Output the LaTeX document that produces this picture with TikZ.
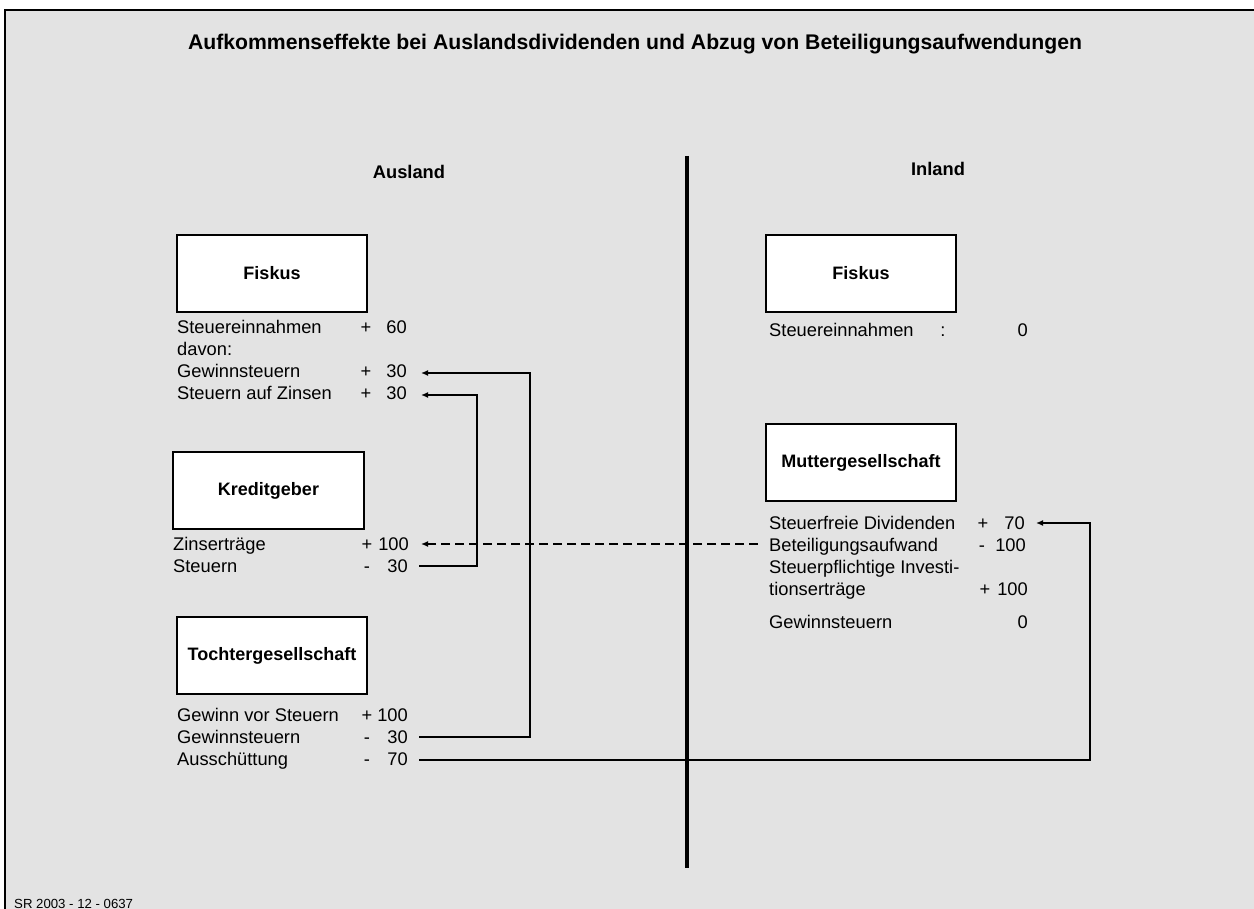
\documentclass[tikz,border=0pt]{standalone}
\usepackage{fontspec}
\setmainfont{Liberation Sans}
\usetikzlibrary{arrows.meta}
\definecolor{bg}{RGB}{227,227,227}
\begin{document}
\begin{tikzpicture}[x=1pt,y=-1pt,
  txt/.style={inner sep=0pt, anchor=base west, font=\fontsize{18.3}{22}\selectfont},
  val/.style={inner sep=0pt, anchor=base east, font=\fontsize{18.3}{22}\selectfont},
  sgn/.style={inner sep=0pt, anchor=base, font=\fontsize{18.3}{22}\selectfont},
  box/.style={draw, line width=2.2pt, fill=white, minimum width=190pt, minimum height=77pt, font=\bfseries\fontsize{18}{22}\selectfont, inner sep=0pt},
  hd/.style={inner sep=0pt, anchor=base, font=\bfseries\fontsize{18.3}{22}\selectfont},
  conn/.style={line width=1.5pt},
  arr/.style={conn, -{Latex[length=7pt,width=6pt]}},
]
\useasboundingbox (0,0) rectangle (1254,909);
\fill[white] (0,0) rectangle (1254,909);
\fill[bg] (5,10) rectangle (1254,909);
\draw[line width=2pt] (5,909) -- (5,10) -- (1254,10);

% title
\node[inner sep=0pt, anchor=base, font=\bfseries\fontsize{21.2}{25}\selectfont] (title) at (635,50)
  {Aufkommenseffekte bei Auslandsdividenden und Abzug von Beteiligungsaufwendungen};

% divider
\draw[line width=4pt] (686.5,156) coordinate (dtop) -- (686.5,868) coordinate (dbot);

% headings
\node[hd] (ausland) at (409,179) {Ausland};
\node[hd] (inland) at (938,176) {Inland};

% boxes
\node[box] (fiskusA) at (272,273.5) {Fiskus};
\node[box, minimum width=191pt] (kredit) at (268.5,490.5) {Kreditgeber};
\node[box] (tochter) at (272,655.5) {Tochtergesellschaft};
\node[box] (fiskusI) at (861,273.5) {Fiskus};
\node[box] (mutter) at (861,462.5) {Muttergesellschaft};

% Fiskus Ausland
\node[txt] (fa1) at (177,334) {Steuereinnahmen};
\node[sgn] (fa1s) at (366,334) {+};
\node[val] (fa1v) at (407,334) {60};
\node[txt] (fa2) at (177,356) {davon:};
\node[txt] (fa3) at (177,378) {Gewinnsteuern};
\node[sgn] (fa3s) at (366,378) {+};
\node[val] (fa3v) at (407,378) {30};
\node[txt] (fa4) at (177,400) {Steuern auf Zinsen};
\node[sgn] (fa4s) at (366,400) {+};
\node[val] (fa4v) at (407,400) {30};

% Kreditgeber
\node[txt] (kr1) at (173,550) {Zinserträge};
\node[sgn] (kr1s) at (367,550) {+};
\node[val] (kr1v) at (409,550) {100};
\node[txt] (kr2) at (173,572) {Steuern};
\node[sgn] (kr2s) at (367,572) {-};
\node[val] (kr2v) at (408,572) {30};

% Tochter
\node[txt] (to1) at (177,721) {Gewinn vor Steuern};
\node[sgn] (to1s) at (367,721) {+};
\node[val] (to1v) at (408,721) {100};
\node[txt] (to2) at (177,743) {Gewinnsteuern};
\node[sgn] (to2s) at (367,743) {-};
\node[val] (to2v) at (408,743) {30};
\node[txt] (to3) at (177,765) {Ausschüttung};
\node[sgn] (to3s) at (367,765) {-};
\node[val] (to3v) at (408,765) {70};

% Fiskus Inland
\node[txt] (fi1) at (769,337) {Steuereinnahmen};
\node[sgn] (fi1s) at (943,337) {:};
\node[val] (fi1v) at (1028,337) {0};

% Mutter
\node[txt] (mu1) at (769,529) {Steuerfreie Dividenden};
\node[sgn] (mu1s) at (983,529) {+};
\node[val] (mu1v) at (1025,529) {70};
\node[txt] (mu2) at (769,551) {Beteiligungsaufwand};
\node[sgn] (mu2s) at (982,551) {-};
\node[val] (mu2v) at (1026,551) {100};
\node[txt] (mu3) at (769,573) {Steuerpflichtige Investi-};
\node[txt] (mu4) at (769,595) {tionserträge};
\node[sgn] (mu4s) at (985,595) {+};
\node[val] (mu4v) at (1028,595) {100};
\node[txt] (mu5) at (769,628) {Gewinnsteuern};
\node[val] (mu5v) at (1028,628) {0};

% footer
\node[inner sep=0pt, anchor=base west, font=\fontsize{13.2}{15}\selectfont] (foot) at (14,908) {SR 2003 - 12 - 0637};

% connector endpoints
\coordinate (a1s) at (419,737);
\coordinate (a1e) at (421,373);
\coordinate (a2s) at (419,566);
\coordinate (a2e) at (421,395);
\coordinate (a3s) at (758,544);
\coordinate (a3e) at (421,544);
\coordinate (a4s) at (419,760);
\coordinate (a4e) at (1036,523);

\draw[arr] (a1s) -- (530,737) |- (a1e);
\draw[arr] (a2s) -- (477,566) |- (a2e);
\draw[arr, dash pattern=on 9pt off 5pt] (a3s) -- (a3e);
\draw[arr] (a4s) -- (1090,760) |- (a4e);
\end{tikzpicture}
\end{document}
